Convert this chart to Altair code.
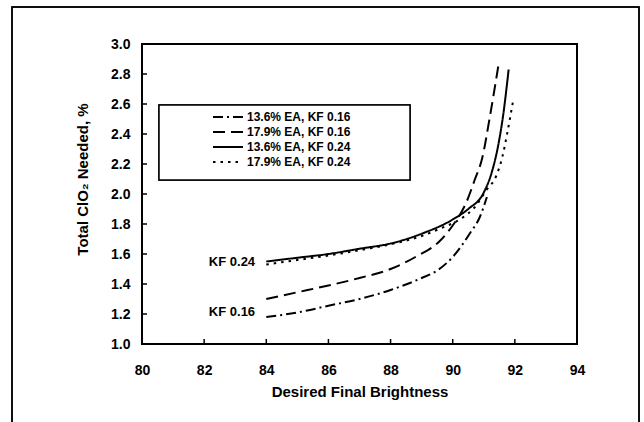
import altair as alt
import pandas as pd

# ---------------- data ----------------
series_names = ["13.6% EA, KF 0.16", "17.9% EA, KF 0.16",
                "13.6% EA, KF 0.24", "17.9% EA, KF 0.24"]

# 13.6% EA, KF 0.16 (dash-dot)
x_136_016 = [84, 85, 86, 87, 88, 89, 89.5, 90.0, 90.56, 90.88, 91.1]
y_136_016 = [1.18, 1.21, 1.255, 1.30, 1.36, 1.44, 1.49, 1.58, 1.74, 1.85, 1.98]

# 17.9% EA, KF 0.16 (dashed)
x_179_016 = [84, 85, 86, 87, 88, 88.8, 89.6, 90.0, 90.45, 90.7, 90.95, 91.2, 91.48]
y_179_016 = [1.30, 1.345, 1.39, 1.44, 1.50, 1.58, 1.69, 1.79, 1.95, 2.09, 2.24, 2.52, 2.87]

# 13.6% EA, KF 0.24 (solid)
x_136_024 = [84, 85, 86, 87, 88, 89, 90, 90.5, 91.0, 91.25, 91.46, 91.62, 91.8]
y_136_024 = [1.55, 1.575, 1.60, 1.635, 1.67, 1.735, 1.83, 1.90, 2.01, 2.14, 2.32, 2.52, 2.83]

# 17.9% EA, KF 0.24 (dotted)
x_179_024 = [84, 85, 86, 87, 88, 89, 89.6, 90.3, 90.7, 91.1, 91.4, 91.6, 91.75, 91.95]
y_179_024 = [1.53, 1.56, 1.59, 1.625, 1.665, 1.72, 1.77, 1.84, 1.91, 2.03, 2.12, 2.25, 2.40, 2.63]

x_ticks = [80, 82, 84, 86, 88, 90, 92, 94]
y_ticks = [1.0, 1.2, 1.4, 1.6, 1.8, 2.0, 2.2, 2.4, 2.6, 2.8, 3.0]

note_text = ["KF 0.24", "KF 0.16"]
note_x = [83.64, 83.64]
note_y = [1.545, 1.215]

# ---------------- tables ----------------
xs = [x_136_016, x_179_016, x_136_024, x_179_024]
ys = [y_136_016, y_179_016, y_136_024, y_179_024]
rows = []
for name, xv, yv in zip(series_names, xs, ys):
    for i, (a, b) in enumerate(zip(xv, yv)):
        rows.append({"series": name, "x": a, "y": b, "i": i})
df = pd.DataFrame(rows)
notes = pd.DataFrame({"t": note_text, "x": note_x, "y": note_y})
xt = pd.DataFrame({"v": x_ticks})
yt = pd.DataFrame({"v": y_ticks})

FONT = "Liberation Sans"
xscale = alt.Scale(domain=[80, 94], nice=False, zero=False)
yscale = alt.Scale(domain=[1.0, 3.0], nice=False, zero=False)
xaxis = alt.Axis(values=x_ticks, format="d", title="Desired Final Brightness",
                 labelPadding=19, titlePadding=7, labelFlush=False, titleFontSize=15)
yaxis = alt.Axis(values=y_ticks, format=".1f", title="Total ClO\u2082 Needed, %",
                 labelPadding=12, titlePadding=20, labelFlush=False, titleFontSize=15,
                 titleY=135)

def X(field):
    return alt.X(field, type="quantitative", scale=xscale, axis=xaxis)

def Y(field):
    return alt.Y(field, type="quantitative", scale=yscale, axis=yaxis)

frame = alt.Chart(notes).mark_rect(fill="transparent", stroke="black", strokeWidth=1.5).encode(
    x=alt.value(-130), x2=alt.value(497), y=alt.value(-37), y2=alt.value(395))

legend_box = alt.Chart(notes).mark_rect(fill="white", stroke="black", strokeWidth=1.5).encode(
    x=alt.value(17), x2=alt.value(268), y=alt.value(61), y2=alt.value(136))

dashes = [[10, 4, 2, 4], [12, 6], [1, 0], [2.5, 5]]

lines = alt.Chart(df).mark_line(interpolate="monotone", color="black", strokeWidth=2,
                                strokeCap="butt").encode(
    x=X("x"), y=Y("y"),
    strokeDash=alt.StrokeDash(
        "series:N",
        scale=alt.Scale(domain=series_names, range=dashes),
        sort=series_names,
        legend=alt.Legend(title=None, orient="none", legendX=80, legendY=67,
                          symbolType="M-3,0L3,0", symbolSize=100,
                          symbolStrokeWidth=2, symbolStrokeColor="black",
                          labelFont=FONT, labelFontWeight="bold", labelFontSize=12,
                          labelColor="black", rowPadding=3, padding=0, labelOffset=13)),
    order="i:Q",
)

text = alt.Chart(notes).mark_text(align="right", baseline="middle", font=FONT,
                                  fontWeight="bold", fontSize=13, color="black").encode(
    x=X("x"), y=Y("y"), text="t:N")

yticks = alt.Chart(yt).mark_rule(color="black", strokeWidth=1.5).encode(
    y=Y("v"), x=alt.value(0), x2=alt.value(5))
xticks = alt.Chart(xt).mark_rule(color="black", strokeWidth=1.5).encode(
    x=X("v"), y=alt.value(300), y2=alt.value(295))

chart = alt.layer(frame, legend_box, lines, text, yticks, xticks).properties(
    width=435, height=300,
    padding={"left": 142, "top": 44, "right": 67, "bottom": 78},
    autosize=alt.AutoSizeParams(type="none"),
    background="white",
).configure_view(stroke="black", strokeWidth=2).configure_axis(
    domain=False, ticks=False, grid=False,
    labelFont=FONT, labelFontWeight="bold", labelFontSize=14, labelColor="black",
    titleFont=FONT, titleFontWeight="bold", titleFontSize=14, titleColor="black",
)

chart.save("out.html", embed_options={"renderer": "svg", "actions": False})
